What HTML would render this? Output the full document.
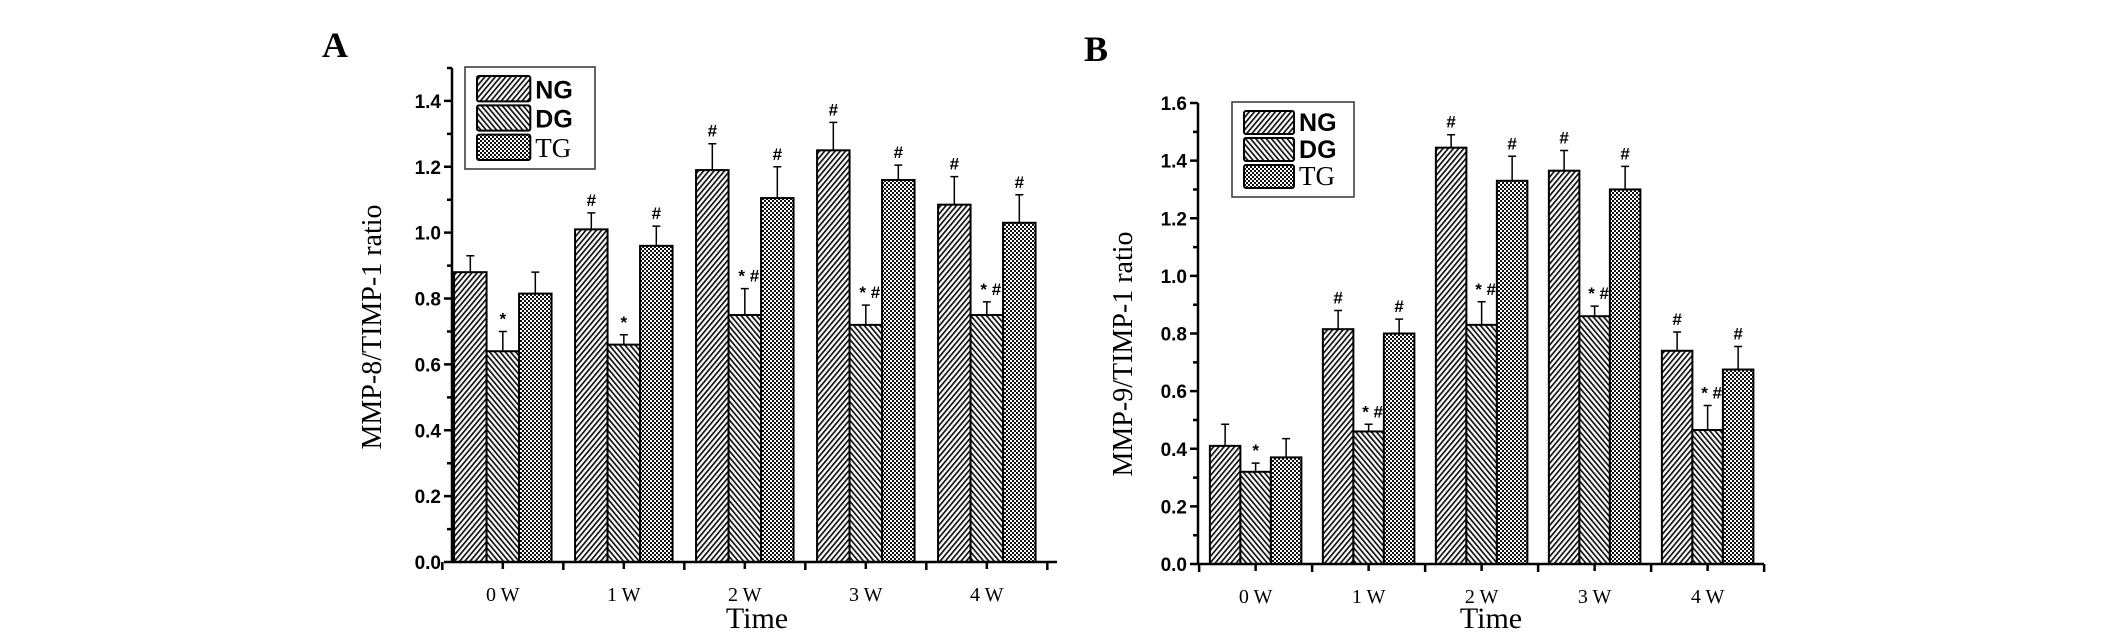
<!DOCTYPE html>
<html><head><meta charset="utf-8"><style>
html,body{margin:0;padding:0;background:#fff;}
svg{display:block;}
</style></head><body>
<svg id="fig" width="2126" height="637" viewBox="0 0 2126 637" xmlns="http://www.w3.org/2000/svg">
<defs>
<pattern id="pNG" width="4" height="4" patternUnits="userSpaceOnUse" patternTransform="rotate(40)"><rect width="4" height="4" fill="#fff"/><rect x="0" y="0" width="1.7" height="4" fill="#111"/></pattern>
<pattern id="pDG" width="4" height="4" patternUnits="userSpaceOnUse" patternTransform="rotate(-40)"><rect width="4" height="4" fill="#fff"/><rect x="0" y="0" width="1.7" height="4" fill="#111"/></pattern>
<pattern id="pTG" width="4" height="4" patternUnits="userSpaceOnUse"><rect width="4" height="4" fill="#fff"/><rect x="0" y="0" width="2" height="2" fill="#111"/><rect x="2" y="2" width="2" height="2" fill="#111"/></pattern>
</defs>
</svg>
<script>
const categories = ["0 W","1 W","2 W","3 W","4 W"];
const seriesNames = ["NG","DG","TG"];
// Panel A: MMP-8/TIMP-1
const aNG = [0.88,1.01,1.19,1.25,1.085];
const aDG = [0.64,0.66,0.75,0.72,0.75];
const aTG = [0.815,0.96,1.105,1.16,1.03];
const aNGerr = [0.05,0.05,0.08,0.085,0.085];
const aDGerr = [0.06,0.03,0.08,0.06,0.04];
const aTGerr = [0.065,0.06,0.095,0.045,0.085];
const aNGmark = ["","#","#","#","#"];
const aDGmark = ["*","*","* #","* #","* #"];
const aTGmark = ["","#","#","#","#"];
const aTicks = ["0.0","0.2","0.4","0.6","0.8","1.0","1.2","1.4"];
// Panel B: MMP-9/TIMP-1
const bNG = [0.41,0.815,1.445,1.365,0.74];
const bDG = [0.32,0.46,0.83,0.86,0.465];
const bTG = [0.37,0.80,1.33,1.30,0.675];
const bNGerr = [0.075,0.065,0.045,0.07,0.065];
const bDGerr = [0.03,0.025,0.08,0.035,0.085];
const bTGerr = [0.065,0.05,0.085,0.08,0.08];
const bNGmark = ["","#","#","#","#"];
const bDGmark = ["*","* #","* #","* #","* #"];
const bTGmark = ["","#","#","#","#"];
const bTicks = ["0.0","0.2","0.4","0.6","0.8","1.0","1.2","1.4","1.6"];

const NS="http://www.w3.org/2000/svg";
const svg=document.getElementById('fig');
function mk(tag,attrs,parent,text){const e=document.createElementNS(NS,tag);for(const k in attrs)e.setAttribute(k,attrs[k]);if(text!==undefined)e.textContent=text;(parent||svg).appendChild(e);return e;}

function panel(cfg){
  const g=mk('g',{});
  
  
  const y=v=>cfg.y0-(v-0)/(cfg.ymax)*(cfg.y0-cfg.ytop);
  const x=i=>cfg.x0+cfg.gap*(i+0.5+cfg.off);
  const L=mk('text',{x:cfg.lx,y:cfg.ly,'font-family':'Liberation Serif, serif','font-weight':'bold','font-size':36},g,cfg.letter);
  
  
  const sets=[[cfg.NG,cfg.NGe,cfg.NGm,'pNG'],[cfg.DG,cfg.DGe,cfg.DGm,'pDG'],[cfg.TG,cfg.TGe,cfg.TGm,'pTG']];
  categories.forEach((c,i)=>{
    sets.forEach((s,j)=>{
      const cx=x(i)+(j-1)*cfg.bw;
      const v=s[0][i], e=s[1][i];
      const r=mk('rect',{x:cx-cfg.bw/2,y:y(v),width:cfg.bw,height:cfg.y0-y(v),fill:'url(#'+s[3]+')',stroke:'#000','stroke-width':2},g);
      
      
      const eb=mk('path',{d:`M${cx},${y(v)}V${y(v+e)}M${cx-4},${y(v+e)}H${cx+4}`,stroke:'#000','stroke-width':1.5,fill:'none'},g);
      
      
      if(s[2][i]){
        const t=mk('text',{x:cx+(s[2][i].length>1?4:0),y:y(v+e)-7,'text-anchor':'middle','font-family':'Liberation Sans, sans-serif','font-weight':'bold','font-size':17},g,s[2][i]);
        
        
      }
    });
    const xl=mk('text',{x:x(i),y:cfg.y0+39,'text-anchor':'middle','font-family':'Liberation Serif, serif','font-size':20},g,c);
    
    
  });
  let d=`M${cfg.x0},${cfg.ytop}V${cfg.y0}H${cfg.x1}`;
  for(let i=0;i<=5;i++){d+=`M${cfg.x0+cfg.gap*(i+cfg.off)},${cfg.y0}v8`;}
  for(let i=0;i<5;i++){d+=`M${x(i)},${cfg.y0}v7`;}
  const nt=cfg.ticks.length;
  const step=cfg.ymaxTick/(nt-1);
  for(let k=0;k<=Math.round(cfg.ymax/step*2);k++){const v=k*step/2;d+=`M${cfg.x0},${y(v)}h${k%2?-5:-8}`;}
  const ax=mk('path',{d:d,stroke:'#000','stroke-width':2.5,fill:'none'},g);
  
  
  cfg.ticks.forEach((t,k)=>{
    const tl=mk('text',{x:cfg.x0-11,y:y(k*step)+7,'text-anchor':'end','font-family':'Liberation Sans, sans-serif','font-weight':'bold','font-size':19},g,t);
    
    
  });
  const yt=mk('text',{x:0,y:0,transform:`translate(${cfg.ytx},${cfg.yty}) rotate(-90)`,'text-anchor':'middle','font-family':'Liberation Serif, serif','font-size':28},g,cfg.ytitle);
  
  
  const xt=mk('text',{x:cfg.xtx,y:628,'text-anchor':'middle','font-family':'Liberation Serif, serif','font-size':30},g,'Time');
  
  
  const lg=mk('g',{},g);
  
  
  mk('rect',{x:cfg.lgx,y:cfg.lgy,width:cfg.lgw,height:cfg.lgh,fill:'#fff',stroke:'#333','stroke-width':1.5},lg);
  const rh=(cfg.lgh-14)/3;
  ['pNG','pDG','pTG'].forEach((p,j)=>{
    const ry=cfg.lgy+7+j*rh+2;
    mk('rect',{x:cfg.lgx+12,y:ry,width:cfg.lgw*0.41,height:rh-4,fill:'url(#'+p+')',stroke:'#000','stroke-width':2,rx:2},lg);
    const t=mk('text',{x:cfg.lgx+cfg.lgw*0.41+17,y:ry+rh-7,'font-family':j==2?'Liberation Serif, serif':'Liberation Sans, sans-serif','font-weight':j==2?'normal':'bold','font-size':j==2?27:25},lg,seriesNames[j]);
    
    
  });
}

panel({name:'panel-a',letter:'A',lx:322,ly:57,x0:452,x1:1057,y0:562,ytop:68,ymax:1.5,ymaxTick:1.4,gap:121,off:-0.08,bw:32.5,
  NG:aNG,DG:aDG,TG:aTG,NGe:aNGerr,DGe:aDGerr,TGe:aTGerr,NGm:aNGmark,DGm:aDGmark,TGm:aTGmark,ticks:aTicks,
  ytitle:'MMP-8/TIMP-1 ratio',ytx:381,yty:327,xtx:757,lgx:465,lgy:67,lgw:130,lgh:102});
panel({name:'panel-b',letter:'B',lx:1084,ly:61,x0:1198,x1:1764,y0:564,ytop:103,ymax:1.6,ymaxTick:1.6,gap:113,off:0.01,bw:30.5,
  NG:bNG,DG:bDG,TG:bTG,NGe:bNGerr,DGe:bDGerr,TGe:bTGerr,NGm:bNGmark,DGm:bDGmark,TGm:bTGmark,ticks:bTicks,
  ytitle:'MMP-9/TIMP-1 ratio',ytx:1132,yty:354,xtx:1491,lgx:1232,lgy:102,lgw:122,lgh:95});
</script>
</body></html>
